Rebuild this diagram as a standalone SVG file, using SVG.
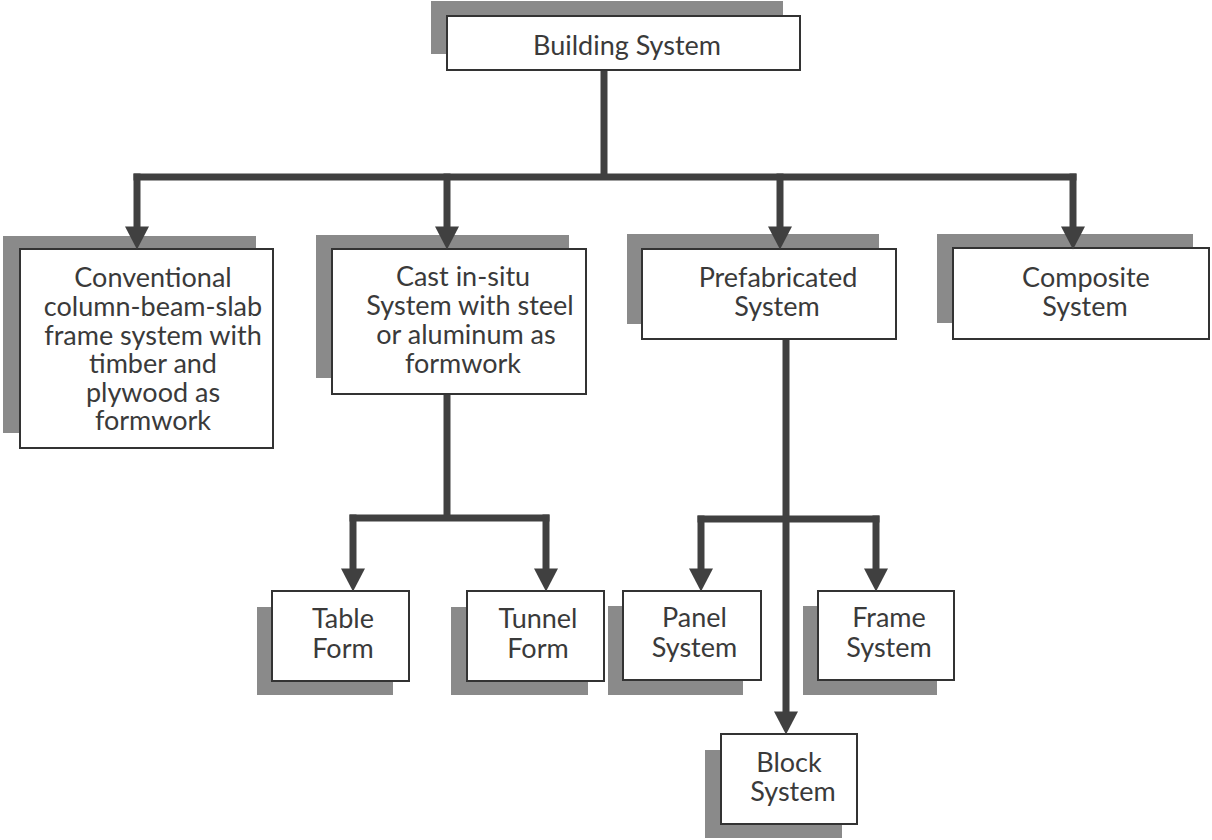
<svg xmlns="http://www.w3.org/2000/svg" width="1212" height="840" viewBox="0 0 1212 840">
<style>
.sh{fill:#8a8a8a}
.bx{fill:#fff;stroke:#333;stroke-width:2}
.t{font-family:Lato,"Open Sans",sans-serif;font-size:27px;fill:#3a3a3a;text-anchor:middle}
.c{fill:none;stroke:#404040;stroke-width:7;stroke-linecap:butt}
</style>
<defs>
<marker id="ah" markerUnits="userSpaceOnUse" markerWidth="24" markerHeight="24" refX="12" refY="11.5" orient="auto" viewBox="0 0 22 23">
<path d="M0,0 L22,11.5 L0,23 Z" fill="#404040"/>
</marker>
</defs>
<g id="building-system">
<rect class="sh" x="431" y="1" width="352" height="53"/>
<rect class="bx" x="447" y="16" width="353" height="54"/>
<text class="t" x="627" y="55">Building System</text>
</g>
<g id="conventional">
<rect class="sh" x="3" y="236" width="253" height="197"/>
<rect class="bx" x="20" y="249" width="253" height="199"/>
<text class="t"><tspan x="153" y="287">Conventional</tspan><tspan x="153" y="316">column-beam-slab</tspan><tspan x="153" y="345">frame system with</tspan><tspan x="153" y="373">timber and</tspan><tspan x="153" y="402">plywood as</tspan><tspan x="153" y="430">formwork</tspan></text>
</g>
<g id="cast-in-situ">
<rect class="sh" x="316" y="235" width="253" height="143"/>
<rect class="bx" x="332" y="249" width="254" height="145"/>
<text class="t"><tspan x="463" y="286">Cast in-situ</tspan><tspan x="470" y="315">System with steel</tspan><tspan x="466" y="344">or aluminum as</tspan><tspan x="463" y="373">formwork</tspan></text>
</g>
<g id="prefabricated">
<rect class="sh" x="627" y="234" width="252" height="90"/>
<rect class="bx" x="642" y="249" width="254" height="90"/>
<text class="t"><tspan x="778" y="287">Prefabricated</tspan><tspan x="777" y="316">System</tspan></text>
</g>
<g id="composite">
<rect class="sh" x="937" y="234" width="256" height="89"/>
<rect class="bx" x="953" y="248" width="256" height="91"/>
<text class="t"><tspan x="1086" y="287">Composite</tspan><tspan x="1085" y="316">System</tspan></text>
</g>
<g id="table-form">
<rect class="sh" x="257" y="607" width="136" height="88"/>
<rect class="bx" x="272" y="591" width="137" height="90"/>
<text class="t"><tspan x="343" y="628">Table</tspan><tspan x="343" y="658">Form</tspan></text>
</g>
<g id="tunnel-form">
<rect class="sh" x="451" y="607" width="137" height="88"/>
<rect class="bx" x="467" y="591" width="137" height="90"/>
<text class="t"><tspan x="538" y="628">Tunnel</tspan><tspan x="538" y="658">Form</tspan></text>
</g>
<g id="panel-system">
<rect class="sh" x="608" y="606" width="135" height="89"/>
<rect class="bx" x="623" y="591" width="138" height="89"/>
<text class="t"><tspan x="694.5" y="627">Panel</tspan><tspan x="694.5" y="657">System</tspan></text>
</g>
<g id="frame-system">
<rect class="sh" x="803" y="606" width="134" height="89"/>
<rect class="bx" x="818" y="591" width="136" height="89"/>
<text class="t"><tspan x="889" y="627">Frame</tspan><tspan x="889" y="657">System</tspan></text>
</g>
<g id="block-system">
<rect class="sh" x="705" y="750" width="137" height="88"/>
<rect class="bx" x="721" y="734" width="136" height="90"/>
<text class="t"><tspan x="789" y="772">Block</tspan><tspan x="793" y="801">System</tspan></text>
</g>
<g id="connectors">
<path class="c" d="M604,71 V177"/>
<path class="c" d="M133.5,177 H1076.5"/>
<path class="c" d="M137,173.5 V239" marker-end="url(#ah)"/>
<path class="c" d="M447,173.5 V239" marker-end="url(#ah)"/>
<path class="c" d="M780,173.5 V239" marker-end="url(#ah)"/>
<path class="c" d="M1073,173.5 V239" marker-end="url(#ah)"/>
<path class="c" d="M447,395 V518"/>
<path class="c" d="M349.5,518 H549.5"/>
<path class="c" d="M353,514.5 V581" marker-end="url(#ah)"/>
<path class="c" d="M546,514.5 V581" marker-end="url(#ah)"/>
<path class="c" d="M786,340 V724" marker-end="url(#ah)"/>
<path class="c" d="M697.5,519 H879.5"/>
<path class="c" d="M701,515.5 V581" marker-end="url(#ah)"/>
<path class="c" d="M876,515.5 V581" marker-end="url(#ah)"/>
</g>
</svg>
